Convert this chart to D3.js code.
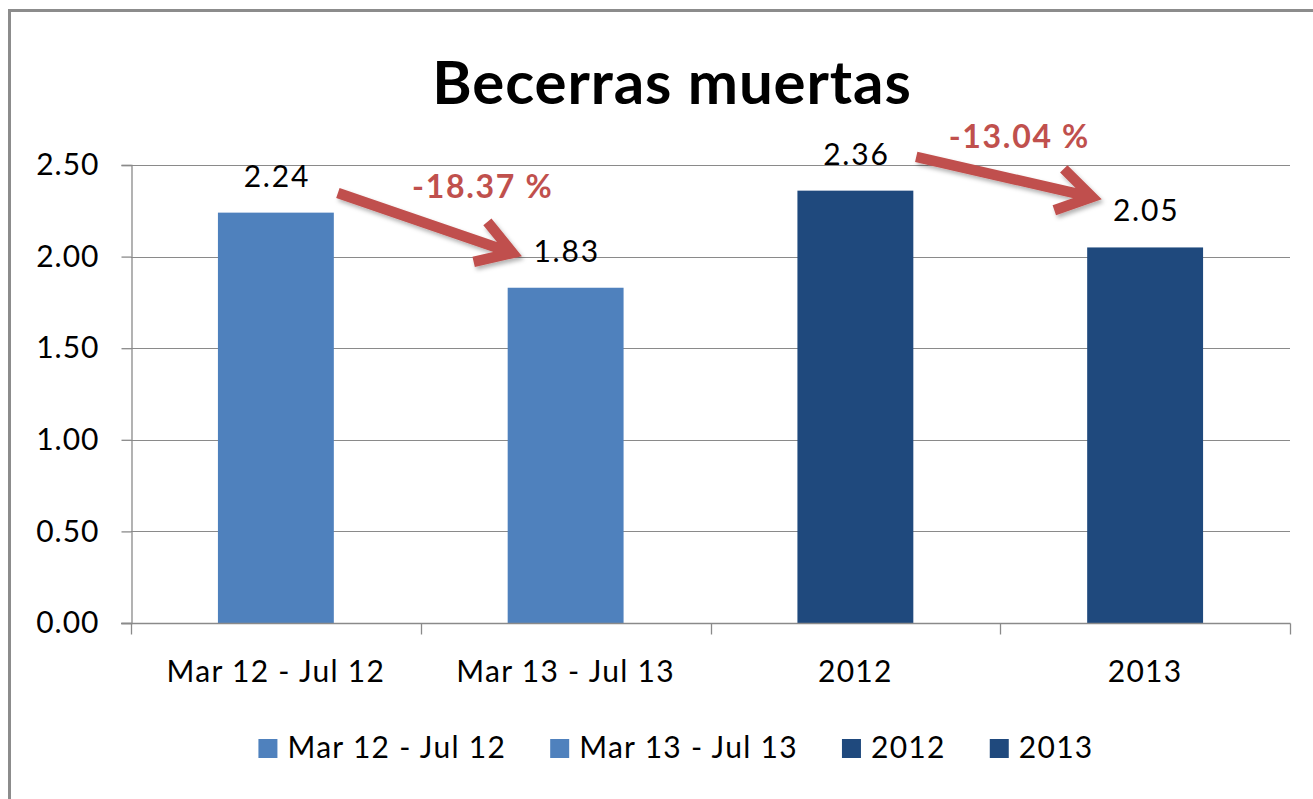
<!DOCTYPE html>
<html>
<head>
<meta charset="utf-8">
<script src="https://cdn.jsdelivr.net/npm/d3@7/dist/d3.min.js"></script>
<style>
  html, body { margin: 0; padding: 0; background: #fff; }
  svg { display: block; font-family: Lato, "Open Sans", sans-serif; }
</style>
</head>
<body>
<svg id="chart" width="1313" height="799"></svg>
<script>
// ---- data ----
const title = "Becerras muertas";
const categories = ["Mar 12 - Jul 12", "Mar 13 - Jul 13", "2012", "2013"];
const values = [2.24, 1.83, 2.36, 2.05];
const seriesColors = ["#4F81BD", "#4F81BD", "#1F497D", "#1F497D"];
const yTicks = [0, 0.5, 1.0, 1.5, 2.0, 2.5];
const yTickLabels = ["0.00", "0.50", "1.00", "1.50", "2.00", "2.50"];
// change annotations: arrow anchors in (category position, value) units
const changeLabels = ["-18.37 %", "-13.04 %"];
const arrowFrom = [[0.714, 2.347], [2.710, 2.544]];
const arrowTo = [[1.317, 2.02], [3.317, 2.325]];
const labelAt = [[1.214, 2.32], [3.066, 2.593]];

// ---- layout ----
const svg = d3.select("#chart");
const plot = { left: 131, right: 1290, top: 165, bottom: 623 };

// outer border
svg.append("rect").attr("x", 9.5).attr("y", 10.5).attr("width", 1400).attr("height", 900)
  .attr("fill", "#fff").attr("stroke", "#8c8c8c").attr("stroke-width", 3);

const x = d3.scaleBand().domain(categories).range([plot.left, plot.right]).paddingInner(0.6).paddingOuter(0.3);
const xc = d3.scaleLinear().domain([0, categories.length]).range([plot.left, plot.right]);
const y = d3.scaleLinear().domain([0, 2.5]).range([plot.bottom, plot.top]);

// defs: shadow
const defs = svg.append("defs");
const f = defs.append("filter").attr("id", "shadow").attr("x", "-20%").attr("y", "-50%").attr("width", "140%").attr("height", "200%");
f.append("feDropShadow").attr("dx", 2).attr("dy", 3).attr("stdDeviation", 2.2)
  .attr("flood-color", "#000").attr("flood-opacity", 0.3);

// gridlines
svg.append("g")
  .selectAll("line").data(yTicks.filter(d => d > 0)).join("line")
  .attr("x1", plot.left).attr("x2", plot.right)
  .attr("y1", d => Math.round(y(d)) + 0.5).attr("y2", d => Math.round(y(d)) + 0.5)
  .attr("stroke", "#8a8a8a").attr("stroke-width", 1.2);

// bars
svg.append("g")
  .selectAll("rect").data(categories).join("rect")
  .attr("x", d => x(d)).attr("width", x.bandwidth())
  .attr("y", (d, i) => y(values[i])).attr("height", (d, i) => y(0) - y(values[i]))
  .attr("fill", (d, i) => seriesColors[i]);

// y axis
const yAxis = d3.axisLeft(y).tickValues(yTicks).tickFormat((d, i) => yTickLabels[i]).tickSize(10).tickPadding(22);
const gy = svg.append("g").attr("transform", `translate(${plot.left + 0.5},0)`).call(yAxis);
gy.select(".domain").attr("stroke", "#8a8a8a").attr("stroke-width", 1.3);
gy.selectAll(".tick line").attr("stroke", "#8a8a8a").attr("stroke-width", 1.3);
gy.selectAll(".tick text").attr("font-size", 30).attr("fill", "#000")
  .attr("font-family", "Lato, sans-serif").attr("letter-spacing", 1);

// x axis
const xTickPos = d3.range(categories.length + 1).map(i => xc(i));
const gx = svg.append("g").attr("transform", `translate(0,${Math.round(y(0)) + 0.5})`);
gx.append("line").attr("x1", plot.left - 10).attr("x2", plot.right + 0.5).attr("stroke", "#8a8a8a").attr("stroke-width", 1.3);
gx.selectAll("line.t").data(xTickPos).join("line").attr("class", "t")
  .attr("x1", d => Math.round(d) + 0.5).attr("x2", d => Math.round(d) + 0.5).attr("y1", 0).attr("y2", 11)
  .attr("stroke", "#8a8a8a").attr("stroke-width", 1.3);
gx.selectAll("text").data(categories).join("text")
  .attr("x", d => x(d) + x.bandwidth() / 2).attr("y", 58)
  .attr("text-anchor", "middle").attr("font-size", 30).attr("letter-spacing", 1.3)
  .attr("fill", "#000").text(d => d);

// data labels
svg.append("g").selectAll("text").data(categories).join("text")
  .attr("x", d => x(d) + x.bandwidth() / 2 + 1)
  .attr("y", (d, i) => y(values[i]) - 26)
  .attr("text-anchor", "middle").attr("font-size", 30).attr("letter-spacing", 1.8).attr("fill", "#000")
  .text((d, i) => values[i].toFixed(2));

// arrows
const arrowG = svg.append("g").attr("filter", "url(#shadow)");
changeLabels.forEach((lab, i) => {
  const x0 = xc(arrowFrom[i][0]), y0 = y(arrowFrom[i][1]);
  const x1 = xc(arrowTo[i][0]), y1 = y(arrowTo[i][1]);
  const ang = Math.atan2(y1 - y0, x1 - x0);
  const hl = 40, ha = 32 * Math.PI / 180;
  const w1 = [x1 - hl * Math.cos(ang - ha), y1 - hl * Math.sin(ang - ha)];
  const w2 = [x1 - hl * Math.cos(ang + ha), y1 - hl * Math.sin(ang + ha)];
  arrowG.append("path")
    .attr("d", `M${x0},${y0}L${x1},${y1}M${w1[0]},${w1[1]}L${x1},${y1}L${w2[0]},${w2[1]}`)
    .attr("fill", "none").attr("stroke", "#C0504D").attr("stroke-width", 10.5)
    .attr("stroke-linejoin", "miter").attr("stroke-linecap", "butt");
});

// change labels
svg.append("g").selectAll("text").data(changeLabels).join("text")
  .attr("x", (d, i) => xc(labelAt[i][0])).attr("y", (d, i) => y(labelAt[i][1]))
  .attr("text-anchor", "middle").attr("font-size", 32).attr("font-weight", "bold")
  .attr("letter-spacing", 1.7).attr("fill", "#C0504D").text(d => d);

// title
svg.append("text").attr("x", 672).attr("y", 104).attr("text-anchor", "middle")
  .attr("font-size", 60).attr("font-weight", "bold").attr("letter-spacing", 0.9)
  .attr("fill", "#000").text(title);

// legend
const lg = svg.append("g");
const items = lg.selectAll("g").data(categories).join("g");
items.append("rect").attr("width", 19).attr("height", 19).attr("y", -19)
  .attr("fill", (d, i) => seriesColors[i]);
items.append("text").attr("x", 29).attr("font-size", 30).attr("letter-spacing", 1.3)
  .attr("fill", "#000").text(d => d);
let cx = 0;
items.each(function () {
  const w = 29 + this.querySelector("text").getComputedTextLength();
  d3.select(this).attr("transform", `translate(${cx},0)`);
  cx += w + 44;
});
const total = cx - 44;
lg.attr("transform", `translate(${676 - total / 2},758)`);
</script>
</body>
</html>
